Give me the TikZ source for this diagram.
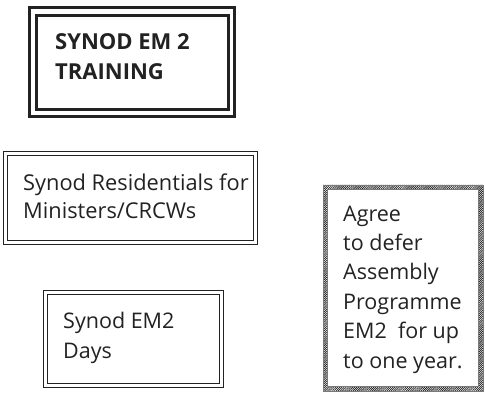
\documentclass[tikz,border=0pt]{standalone}
\usepackage{fontspec}
\setmainfont{Open Sans}
\usetikzlibrary{patterns.meta}
\definecolor{ink}{HTML}{222222}
\tikzset{
  txt/.style={anchor=base west, inner sep=0pt, align=left, text=ink,
    font=\fontsize{21.5}{29.4}\selectfont},
  thick frame/.style={draw=ink, line width=3pt},
  thin frame/.style={draw=ink, line width=1.3pt},
  hatch/.style={pattern={Lines[angle=45,distance=1.5pt,line width=0.75pt]}, pattern color=ink, even odd rule},
}
\begin{document}
\begin{tikzpicture}[x=1pt,y=1pt]
\useasboundingbox (0,0) rectangle (485,394);
% Top box (two heavy frames)
\draw[thick frame] (29.5,386.5) rectangle (234.5,277.5);
\draw[thick frame] (36.5,378.5) rectangle (228.5,284.5);
\node[txt, font=\fontsize{22}{30}\selectfont\bfseries] (title) at (55,314) {SYNOD EM 2\\TRAINING};
% Residentials box
\draw[thin frame] (3.8,242.2) rectangle (257.2,149.8);
\draw[thin frame] (7.6,238.4) rectangle (253.4,153.6);
\node[txt, font=\fontsize{21.8}{28}\selectfont] (resid) at (23,175) {Synod Residentials for\\Ministers/CRCWs};
% EM2 Days box
\draw[thin frame] (43.8,103.2) rectangle (223.2,6.8);
\draw[thin frame] (47.6,99.4) rectangle (219.4,10.6);
\node[txt, font=\fontsize{21.5}{30}\selectfont] (days) at (63,36) {Synod EM2\\Days};
% Hatched box
\fill[hatch] (323,209) rectangle (483,3) (327.5,204.5) rectangle (478.5,7.5);
\draw[ink!60, line width=0.3pt] (323,209) rectangle (483,3);
\draw[ink!60, line width=0.3pt] (327.5,204.5) rectangle (478.5,7.5);
\node[txt] (defer) at (343,26) {Agree\\to defer\\Assembly\\Programme\\EM2~ for up\\to one year.};
\end{tikzpicture}
\end{document}
